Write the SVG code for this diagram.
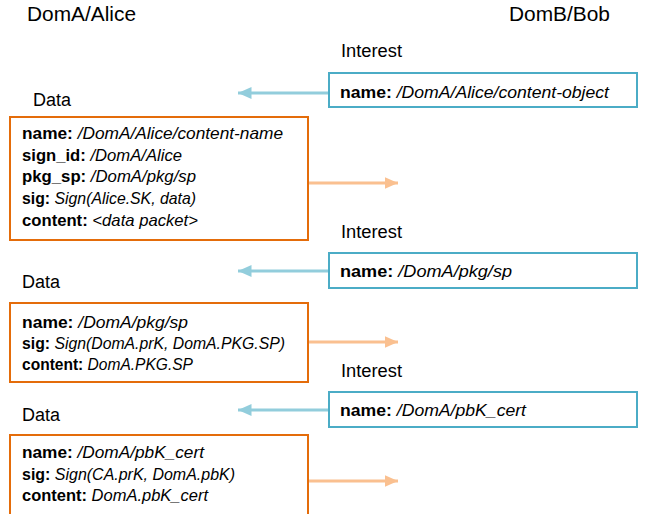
<svg xmlns="http://www.w3.org/2000/svg" width="646" height="514" viewBox="0 0 646 514">
<defs>
<style>
text{font-family:"Liberation Sans",Arial,sans-serif;fill:#000}
.hd{font-size:20px}
.lb{font-size:18px}
.t{font-size:17px}
.b{font-weight:bold}
.i{font-style:italic}
.ibox{fill:#fff;stroke:#4BACC6;stroke-width:2}
.dbox{fill:#fff;stroke:#E46C0A;stroke-width:2}
.ia{stroke:#92CDDC;stroke-width:3;fill:none}
.da{stroke:#FAC090;stroke-width:3;fill:none}
</style>
<marker id="mb" markerWidth="4.5" markerHeight="4" refX="4.5" refY="2" orient="auto" markerUnits="strokeWidth"><path d="M0,0 L4.5,2 L0,4 Z" fill="#92CDDC"/></marker>
<marker id="mo" markerWidth="4.5" markerHeight="4" refX="4.5" refY="2" orient="auto" markerUnits="strokeWidth"><path d="M0,0 L4.5,2 L0,4 Z" fill="#FAC090"/></marker>
</defs>
<rect width="646" height="514" fill="#fff"/>
<text class="hd" x="27" y="21" textLength="109" lengthAdjust="spacingAndGlyphs">DomA/Alice</text>
<text class="hd" x="509" y="21" textLength="101" lengthAdjust="spacingAndGlyphs">DomB/Bob</text>

<g id="connectors">
<line class="ia" x1="329" y1="93" x2="238" y2="93" marker-end="url(#mb)"/>
<line class="da" x1="309" y1="183" x2="398" y2="183" marker-end="url(#mo)"/>
<line class="ia" x1="329" y1="271" x2="238" y2="271" marker-end="url(#mb)"/>
<line class="da" x1="309" y1="342" x2="398" y2="342" marker-end="url(#mo)"/>
<line class="ia" x1="329" y1="410" x2="238" y2="410" marker-end="url(#mb)"/>
<line class="da" x1="309" y1="481" x2="398" y2="481" marker-end="url(#mo)"/>
</g>

<g id="interest1">
<text class="lb" x="341" y="57" textLength="61" lengthAdjust="spacingAndGlyphs">Interest</text>
<rect class="ibox" x="329" y="73" width="308" height="34"/>
<text class="t" x="340" y="98" textLength="269" lengthAdjust="spacingAndGlyphs"><tspan class="b">name:</tspan>  <tspan class="i">/DomA/Alice/content-object</tspan></text>
</g>

<g id="data1">
<text class="lb" x="33" y="106" textLength="38" lengthAdjust="spacingAndGlyphs">Data</text>
<rect class="dbox" x="10" y="117" width="298" height="123"/>
<text class="t" x="22" y="139" textLength="261" lengthAdjust="spacingAndGlyphs"><tspan class="b">name:</tspan> <tspan class="i">/DomA/Alice/content-name</tspan></text>
<text class="t" x="22" y="161" textLength="160" lengthAdjust="spacingAndGlyphs"><tspan class="b">sign_id:</tspan> <tspan class="i">/DomA/Alice</tspan></text>
<text class="t" x="22" y="182" textLength="174" lengthAdjust="spacingAndGlyphs"><tspan class="b">pkg_sp:</tspan> <tspan class="i">/DomA/pkg/sp</tspan></text>
<text class="t" x="22" y="204" textLength="174" lengthAdjust="spacingAndGlyphs"><tspan class="b">sig:</tspan> <tspan class="i">Sign(Alice.SK, data)</tspan></text>
<text class="t" x="22" y="226" textLength="176" lengthAdjust="spacingAndGlyphs"><tspan class="b">content:</tspan> <tspan class="i">&lt;data packet&gt;</tspan></text>
</g>

<g id="interest2">
<text class="lb" x="341" y="238" textLength="61" lengthAdjust="spacingAndGlyphs">Interest</text>
<rect class="ibox" x="329" y="253" width="308" height="35"/>
<text class="t" x="340" y="277" textLength="172" lengthAdjust="spacingAndGlyphs"><tspan class="b">name:</tspan>  <tspan class="i">/DomA/pkg/sp</tspan></text>
</g>

<g id="data2">
<text class="lb" x="22" y="288" textLength="38" lengthAdjust="spacingAndGlyphs">Data</text>
<rect class="dbox" x="10" y="303" width="298" height="79"/>
<text class="t" x="22" y="328" textLength="166" lengthAdjust="spacingAndGlyphs"><tspan class="b">name:</tspan> <tspan class="i">/DomA/pkg/sp</tspan></text>
<text class="t" x="22" y="349" textLength="263" lengthAdjust="spacingAndGlyphs"><tspan class="b">sig:</tspan> <tspan class="i">Sign(DomA.prK, DomA.PKG.SP)</tspan></text>
<text class="t" x="22" y="370" textLength="171" lengthAdjust="spacingAndGlyphs"><tspan class="b">content:</tspan> <tspan class="i">DomA.PKG.SP</tspan></text>
</g>

<g id="interest3">
<text class="lb" x="341" y="377" textLength="61" lengthAdjust="spacingAndGlyphs">Interest</text>
<rect class="ibox" x="329" y="392" width="308" height="35"/>
<text class="t" x="340" y="416" textLength="186" lengthAdjust="spacingAndGlyphs"><tspan class="b">name:</tspan>  <tspan class="i">/DomA/pbK_cert</tspan></text>
</g>

<g id="data3">
<text class="lb" x="22" y="421" textLength="38" lengthAdjust="spacingAndGlyphs">Data</text>
<rect class="dbox" x="10" y="435" width="298" height="80"/>
<text class="t" x="22" y="458" textLength="182" lengthAdjust="spacingAndGlyphs"><tspan class="b">name:</tspan> <tspan class="i">/DomA/pbK_cert</tspan></text>
<text class="t" x="22" y="480" textLength="213" lengthAdjust="spacingAndGlyphs"><tspan class="b">sig:</tspan> <tspan class="i">Sign(CA.prK, DomA.pbK)</tspan></text>
<text class="t" x="22" y="501" textLength="186" lengthAdjust="spacingAndGlyphs"><tspan class="b">content:</tspan> <tspan class="i">DomA.pbK_cert</tspan></text>
</g>
</svg>
